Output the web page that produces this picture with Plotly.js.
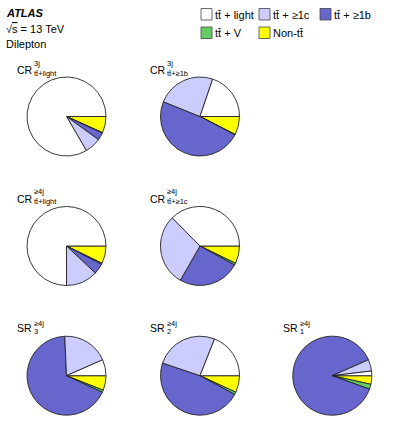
<!DOCTYPE html>
<html><head><meta charset="utf-8">
<script src="https://cdn.plot.ly/plotly-3.0.1.min.js"></script>
<style>html,body{margin:0;padding:0;background:#fff}</style>
</head><body><div id="chart" style="width:399px;height:440px"></div>
<script>
// Categories (legend order; slices run counterclockwise from 3 o'clock in this order)
const categories = ["tt̄ + light", "tt̄ + ≥1c", "tt̄ + ≥1b", "tt̄ + V", "Non-tt̄"];
const colors = ["#ffffff", "#ccccff", "#6666cc", "#66cc66", "#ffff00"];
// Region names
const regionMain = ["CR", "CR", "CR", "CR", "SR", "SR", "SR"];
const regionSup = ["3j", "3j", "≥4j", "≥4j", "≥4j", "≥4j", "≥4j"];
const regionSub = ["tt̄+light", "tt̄+≥1b", "tt̄+light", "tt̄+≥1c", "3", "2", "1"];
// Fractions (%) per region, ordered as categories
const crLight3j = [83.4, 6.6, 3.1, 0.2, 6.7];
const cr1b3j    = [19.8, 24.1, 48.4, 0.2, 7.5];
const crLight4j = [75.0, 13.0, 4.3, 0.5, 7.2];
const cr1c4j    = [37.4, 29.3, 25.3, 0.8, 7.2];
const sr3       = [6.6, 19.1, 67.4, 0.9, 6.0];
const sr2       = [19.0, 25.8, 47.3, 1.0, 6.9];
const sr1       = [1.9, 4.7, 87.9, 2.0, 3.5];
const regionValues = [crLight3j, cr1b3j, crLight4j, cr1c4j, sr3, sr2, sr1];

const W = 399, H = 440;
const centers = [[66.5,116.5],[200,116.5],[66.5,246],[200,246],[66.5,375.7],[200,375.7],[332.3,375.7]];
const R = 39.5;
const px = x => x / W;
const py = y => 1 - y / H;

const rev = a => a.slice().reverse();
const traces = regionValues.map((vals, i) => {
  const [cx, cy] = centers[i];
  return {
    type: "pie",
    labels: rev(categories),
    values: rev(vals),
    sort: false,
    direction: "clockwise",
    rotation: 90,
    textinfo: "none",
    hoverinfo: "label+percent",
    marker: {colors: rev(colors), line: {color: "#222", width: 0.9}},
    domain: {x: [px(cx - R), px(cx + R)], y: [py(cy + R), py(cy - R)]},
    showlegend: false
  };
});

const font = "Liberation Sans, Arial, sans-serif";
const ann = [];
function txt(text, x, y, size, extra) {
  ann.push(Object.assign({text: text, x: px(x), y: py(y), xref: "paper", yref: "paper",
    xanchor: "left", yanchor: "middle", showarrow: false,
    font: {family: font, size: size, color: "#000"}}, extra || {}));
}
txt("<b><i>ATLAS</i></b>", 4, 12.5, 11);
txt("√<span style='text-decoration:overline'>s</span> = 13 TeV", 4, 28.5, 11);
txt("Dilepton", 4, 43.5, 11);

// Region labels
const labelPos = [[16,70.5],[149,70.5],[16,199],[149,199],[16,328],[149,328],[282,328]];
labelPos.forEach(([x, y], i) => {
  txt(regionMain[i], x - 1, y, 10.5);
  const isSR = regionMain[i] === "SR";
  txt(regionSup[i], x + 15.5, y - (isSR ? 5 : 7.5), 7.5);
  txt(regionSub[i], x + 15.5, y + (isSR ? 3 : 2.5), 7.5);
});

// Legend (drawn boxes + text)
const shapes = [];
const legendPos = [[201,8.5],[259,8.5],[320,8.5],[201,27],[259,27]];
categories.forEach((c, i) => {
  const [x, y] = legendPos[i];
  shapes.push({type: "rect", xref: "paper", yref: "paper", x0: px(x), x1: px(x + 11), y0: py(y + 11.5), y1: py(y),
    fillcolor: colors[i], line: {color: "#444", width: 0.8}});
  txt(c, x + 12, y + 6, 11);
});

Plotly.newPlot("chart", traces, {
  width: W, height: H,
  margin: {l: 0, r: 0, t: 0, b: 0},
  paper_bgcolor: "#fff", plot_bgcolor: "#fff",
  showlegend: false,
  annotations: ann,
  shapes: shapes
}, {displayModeBar: false, staticPlot: true});
</script></body></html>
